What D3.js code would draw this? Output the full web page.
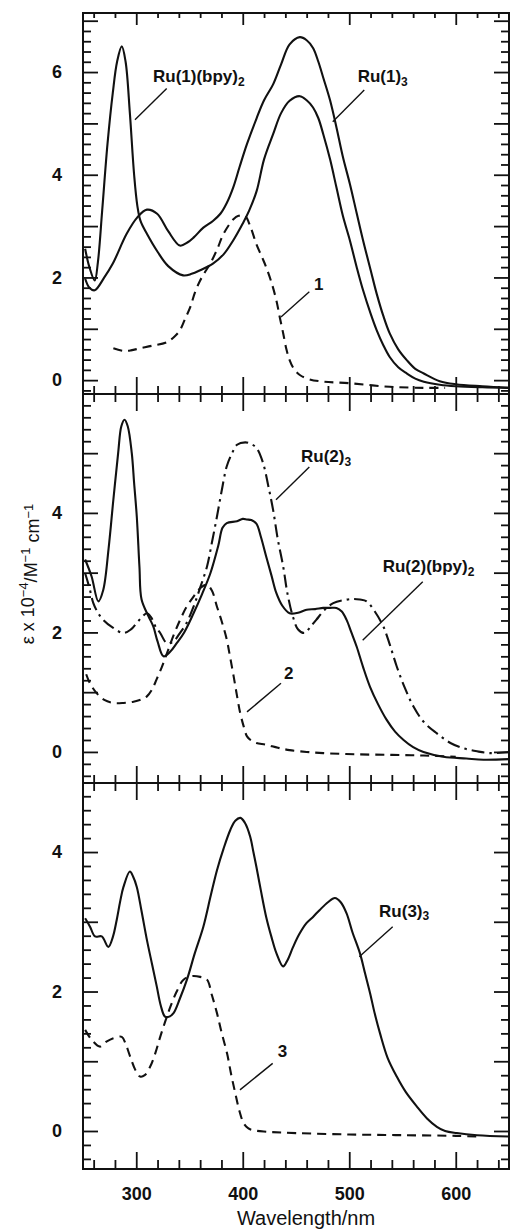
<!DOCTYPE html>
<html><head><meta charset="utf-8">
<script src="https://cdn.jsdelivr.net/npm/d3@7"></script>
<style>
body{margin:0;background:#fff}
svg{display:block}
text{font-family:"Liberation Sans",Arial,Helvetica,sans-serif;fill:#111}
</style>
</head><body>
<svg id="c" width="512" height="1231"></svg>
<script>
// ---------------- DATA (wavelength nm, epsilon x 1e-4) ----------------
// Panel 1
const ru1_3 = [[252,1.98],[256,1.8],[261,1.75],[270,2.0],[278,2.27],[291,2.85],[301,3.17],[310,3.32],[319.6,3.24],[330,2.9],[341,2.62],[348,2.68],[354,2.78],[363,2.97],[372,3.1],[379,3.24],[385,3.45],[391,3.75],[397,4.15],[404,4.6],[413,5.1],[420,5.45],[428.5,5.76],[436,6.15],[444,6.54],[453.6,6.68],[460,6.62],[466,6.47],[471,6.2],[475.6,5.89],[482,5.45],[488,4.92],[494,4.35],[500.6,3.82],[507,3.25],[513,2.72],[520,2.15],[525.8,1.68],[532,1.25],[538,0.91],[546,0.6],[554,0.39],[562,0.22],[570,0.13],[585,-0.02],[600,-0.08],[625,-0.12],[650,-0.15]];
const ru1_bpy2 = [[252,2.56],[256,2.2],[261,1.94],[264,2.3],[268,3.3],[273,4.6],[278,5.6],[282,6.2],[286.4,6.5],[290,6.2],[294,5.2],[298,4.0],[301,3.4],[304,3.1],[310,2.85],[320,2.5],[330,2.22],[344,2.04],[352,2.07],[360,2.14],[372,2.27],[382,2.45],[391,2.72],[400,3.05],[406,3.3],[413,3.68],[420,4.3],[428.5,4.79],[436,5.2],[444,5.44],[453.6,5.53],[460,5.45],[466,5.31],[471,5.1],[475.6,4.79],[482,4.3],[488,3.75],[494,3.2],[500.6,2.72],[507,2.2],[513,1.75],[520,1.3],[525.8,0.97],[532,0.68],[538,0.45],[546,0.25],[554,0.13],[562,0.03],[570,-0.03],[585,-0.09],[600,-0.12],[625,-0.14],[650,-0.15]];
const lig1 = [[278.5,0.62],[288,0.57],[295,0.58],[303.6,0.62],[315,0.67],[328.8,0.74],[336,0.85],[341,0.97],[346,1.2],[350.7,1.42],[355,1.7],[360,1.94],[365,2.12],[369.5,2.27],[376,2.55],[382,2.85],[391.5,3.14],[396,3.2],[402,3.2],[407,3.0],[412.8,2.65],[418,2.4],[422,2.2],[427,1.9],[431.6,1.55],[435,1.2],[438,0.91],[441,0.6],[444,0.39],[448,0.22],[453.6,0.1],[462,0.02],[475.6,-0.03],[500.6,-0.06],[538,-0.13],[570,-0.15],[590,-0.15]];
// Panel 2
const ru2_bpy2 = [[252,3.22],[258,2.94],[264.4,2.52],[269,2.71],[274,3.4],[278.5,4.22],[283,5.0],[286,5.45],[289,5.56],[292,5.45],[295.8,5.0],[298,4.5],[300.5,3.94],[303,3.1],[305,2.55],[311.5,2.27],[316,2.1],[320,1.85],[325.6,1.6],[332,1.68],[338,1.82],[345,2.0],[353.8,2.32],[362,2.65],[369.6,2.99],[377,3.45],[381,3.75],[385,3.83],[394.6,3.86],[400,3.9],[404,3.89],[408,3.88],[412.8,3.82],[417,3.6],[422,3.27],[427,2.95],[431.5,2.66],[437,2.45],[444,2.32],[452,2.33],[460,2.38],[468,2.39],[475.6,2.41],[482,2.41],[488,2.41],[493,2.35],[497.5,2.21],[502,2.0],[507,1.76],[513,1.42],[519.5,1.09],[527,0.8],[535,0.54],[543,0.34],[551,0.2],[560,0.08],[569.7,0.0],[588.5,-0.08],[610,-0.11],[626,-0.13],[650,-0.12]];
const ru2_3 = [[252,2.99],[256,2.75],[259.7,2.49],[264,2.33],[269,2.21],[278,2.08],[288,1.99],[295,2.05],[300.5,2.16],[305,2.25],[310,2.32],[314,2.25],[318,2.1],[322.5,1.99],[328.8,1.82],[335,1.85],[341,1.99],[347,2.15],[353.8,2.43],[360,2.75],[366.4,3.1],[371,3.5],[375.8,3.94],[380,4.35],[385,4.78],[390,5.0],[394.6,5.14],[402.5,5.18],[408,5.15],[412.8,5.09],[419,4.84],[424,4.45],[428.5,4.05],[433,3.55],[438,3.1],[442,2.65],[447,2.27],[452,2.05],[458,1.99],[463,2.08],[469,2.21],[477,2.38],[485,2.49],[495,2.54],[503.8,2.56],[510,2.55],[516.3,2.52],[524,2.35],[532,2.1],[538,1.8],[544.6,1.43],[552,1.08],[560.3,0.76],[570,0.5],[582.3,0.31],[595,0.15],[607.4,0.06],[620,0.01],[632.5,-0.02],[650,0.0]];
const lig2 = [[253,1.3],[256.5,1.15],[263,0.98],[270,0.87],[278.5,0.82],[288,0.82],[297.4,0.84],[305,0.88],[310,0.93],[315,1.05],[319,1.21],[324,1.42],[328.8,1.65],[335,1.95],[341.2,2.21],[347,2.42],[353.8,2.6],[360,2.74],[366,2.8],[371,2.7],[375.8,2.43],[380,2.2],[385,1.88],[388,1.6],[391.5,1.26],[394.5,0.95],[397.6,0.65],[401,0.42],[404,0.26],[408,0.19],[412.8,0.15],[422,0.12],[433,0.07],[444,0.03],[460,0.0],[475.6,-0.02],[507,-0.04],[540,-0.05],[569.7,-0.06],[600,-0.08]];
// Panel 3
const ru3_3 = [[252,3.05],[256.6,2.93],[261.3,2.79],[267.6,2.79],[273.8,2.64],[278,2.78],[281.7,3.03],[285,3.3],[288,3.5],[294,3.72],[297,3.65],[300.5,3.5],[305,3.15],[310,2.74],[315,2.38],[319.3,2.07],[323,1.8],[327,1.64],[331,1.64],[335,1.69],[341,1.9],[347.6,2.17],[355,2.55],[363,2.93],[370,3.38],[375.8,3.74],[382,4.05],[388.4,4.32],[393,4.45],[397.8,4.49],[402,4.42],[407,4.22],[410,4.0],[412.8,3.79],[417,3.45],[422,3.07],[427,2.78],[431.6,2.55],[437.9,2.36],[442,2.45],[447.3,2.64],[453,2.82],[459.8,2.98],[466,3.07],[472.3,3.17],[480,3.28],[486.5,3.34],[492,3.28],[497.5,3.12],[503,2.85],[510,2.55],[515,2.25],[519.5,1.98],[524,1.68],[528.9,1.4],[536,1.05],[544.6,0.78],[553,0.56],[563.5,0.35],[573,0.18],[582.3,0.06],[590,0.0],[601,-0.03],[620,-0.06],[650,-0.08]];
const lig3 = [[252,1.45],[258,1.31],[266,1.21],[272,1.28],[278.5,1.33],[286.4,1.35],[290,1.25],[294.2,1.07],[299,0.88],[303.6,0.78],[308,0.8],[313,0.92],[318,1.12],[322.5,1.35],[327,1.56],[332,1.78],[338,2.0],[344.4,2.17],[352,2.22],[360,2.21],[366.4,2.17],[371,1.95],[375.8,1.69],[380,1.42],[385.3,1.11],[389,0.82],[393,0.54],[397,0.28],[400.9,0.11],[405,0.04],[410.3,0.01],[422,-0.01],[450,-0.03],[500,-0.05],[550,-0.06],[600,-0.07],[620,-0.08]];

// ticks / labels
const xMajorTicks = [300,400,500,600];
const xMinorTicks = [260,280,320,340,360,380,420,440,460,480,520,540,560,580,620,640];
const xTickLabels = ["300","400","500","600"];
const yLabelValues = [[0,2,4,6],[0,2,4],[0,2,4]];
const yDomains = [[-0.27,7.15],[-0.52,5.99],[-0.545,4.99]];
// annotation: [main text, subscript, text anchor (w,v), leader from (w,v) to (w,v)]
const notes1 = [["Ru(1)(bpy)","2",[315.7,5.8],[328.6,5.68],[298.8,5.07]],["Ru(1)","3",[507.9,5.8],[514.1,5.65],[484.5,5.03]],["1","",[466.9,1.75],[462.5,1.72],[435.9,1.23]]];
const notes2 = [["Ru(2)","3",[454.7,4.85],[462.5,4.77],[431.2,4.22]],["Ru(2)(bpy)","2",[531.4,3.01],[569,2.85],[512.6,1.87]],["2","",[438.7,1.22],[435.9,1.15],[404,0.67]]];
const notes3 = [["Ru(3)","3",[528,3.07],[540.8,2.93],[509.4,2.5]],["3","",[432.8,1.06],[428.1,0.97],[397.4,0.59]]];

// ---------------- DRAW ----------------
const svg = d3.select("#c");
const L = 83, R = 509;
const bounds = [[13,394],[394,783],[783,1169]];
const x = d3.scaleLinear().domain([250,650]).range([L,R]);
const dashStyles = {solid:null, dash:"9,6", dashdot:"13,5,2.5,5"};
const panels = [
  {series:[[ru1_3,"solid"],[ru1_bpy2,"solid"],[lig1,"dash"]], notes:notes1},
  {series:[[ru2_bpy2,"solid"],[ru2_3,"dashdot"],[lig2,"dash"]], notes:notes2},
  {series:[[ru3_3,"solid"],[lig3,"dash"]], notes:notes3}
];

panels.forEach((p,i)=>{
  const [top,bot] = bounds[i];
  const y = d3.scaleLinear().domain(yDomains[i]).range([bot,top]);
  const dom = yDomains[i];
  const all = d3.range(Math.ceil(dom[0]*5), Math.floor(dom[1]*5)+1);
  const minor = all.filter(k=>k%5!==0).map(k=>k/5);
  const major = all.filter(k=>k%5===0).map(k=>k/5);
  const g = svg.append("g");
  const rm = s=>s.call(a=>a.select(".domain").remove());
  g.append("g").attr("transform",`translate(${L},0)`).call(d3.axisRight(y).tickValues(minor).tickSize(8).tickFormat("")).call(rm);
  g.append("g").attr("transform",`translate(${L},0)`).call(d3.axisRight(y).tickValues(major).tickSize(15).tickFormat("")).call(rm);
  g.append("g").attr("transform",`translate(${R},0)`).call(d3.axisLeft(y).tickValues(minor).tickSize(8).tickFormat("")).call(rm);
  g.append("g").attr("transform",`translate(${R},0)`).call(d3.axisLeft(y).tickValues(major).tickSize(15).tickFormat("")).call(rm);
  const lab = g.append("g").attr("transform",`translate(${L},0)`)
    .call(d3.axisLeft(y).tickValues(yLabelValues[i]).tickSize(0).tickPadding(21).tickFormat(d3.format("d"))).call(rm);
  lab.selectAll("text").style("font-size","18px").style("font-weight","bold").attr("fill","#111");
  g.selectAll(".tick line").attr("stroke","#111").attr("stroke-width",1.8);

  const cid = "clip"+i;
  svg.append("clipPath").attr("id",cid).append("rect").attr("x",L).attr("y",top).attr("width",R-L).attr("height",bot-top);
  const line = d3.line().x(d=>x(d[0])).y(d=>y(d[1])).curve(d3.curveCatmullRom.alpha(0.5));
  const cg = svg.append("g").attr("clip-path",`url(#${cid})`);
  p.series.forEach(([data,st])=>{
    cg.append("path").datum(data).attr("d",line).attr("fill","none").attr("stroke","#111")
      .attr("stroke-width",2.1).attr("stroke-linejoin","round")
      .attr("stroke-dasharray",dashStyles[st]);
  });
  p.notes.forEach(([t,sub,pos,a,b])=>{
    svg.append("line").attr("x1",x(a[0])).attr("y1",y(a[1])).attr("x2",x(b[0])).attr("y2",y(b[1]))
      .attr("stroke","#111").attr("stroke-width",1.4);
    const tx = svg.append("text").attr("x",x(pos[0])).attr("y",y(pos[1]))
      .style("font-size","17px").style("font-weight","bold").text(t);
    if(sub) tx.append("tspan").attr("dy","0.3em").style("font-size","12px").text(sub);
  });
});

const rmd = s=>s.call(a=>a.select(".domain").remove());
function xt(yPos, fn, size, vals){
  svg.append("g").attr("transform",`translate(0,${yPos})`).call(fn(x).tickValues(vals).tickSize(size).tickFormat("")).call(rmd)
    .selectAll(".tick line").attr("stroke","#111").attr("stroke-width",1.8);
}
xt(13, d3.axisBottom, 12, xMajorTicks); xt(13, d3.axisBottom, 5, xMinorTicks);
[394,783].forEach(yy=>{
  xt(yy, d3.axisBottom, 17, xMajorTicks); xt(yy, d3.axisBottom, 8, xMinorTicks);
  xt(yy, d3.axisTop, 17, xMajorTicks); xt(yy, d3.axisTop, 8, xMinorTicks);
});
xt(1169, d3.axisTop, 17, xMajorTicks); xt(1169, d3.axisTop, 9, xMinorTicks);
const xl = svg.append("g").attr("transform","translate(0,1169)")
  .call(d3.axisBottom(x).tickValues(xMajorTicks).tickSize(0).tickPadding(18).tickFormat((d,i)=>xTickLabels[i])).call(rmd);
xl.selectAll("text").style("font-size","18px").style("font-weight","bold").attr("fill","#111");

svg.append("rect").attr("x",L).attr("y",13).attr("width",R-L).attr("height",1169-13)
  .attr("fill","none").attr("stroke","#111").attr("stroke-width",2);
[394,783].forEach(yy=>svg.append("line").attr("x1",L).attr("x2",R).attr("y1",yy).attr("y2",yy).attr("stroke","#111").attr("stroke-width",2));

svg.append("text").attr("x",306).attr("y",1225).attr("text-anchor","middle").style("font-size","20px").text("Wavelength/nm");
const yt = svg.append("text").attr("transform","translate(34,574) rotate(-90)").attr("text-anchor","middle").style("font-size","18px");
yt.append("tspan").text("ε x 10");
yt.append("tspan").attr("dy","-0.5em").style("font-size","13px").text("−4");
yt.append("tspan").attr("dy","0.5em").text("/M");
yt.append("tspan").attr("dy","-0.5em").style("font-size","13px").text("−1");
yt.append("tspan").attr("dy","0.5em").text(" cm");
yt.append("tspan").attr("dy","-0.5em").style("font-size","13px").text("−1");
</script>
</body></html>
